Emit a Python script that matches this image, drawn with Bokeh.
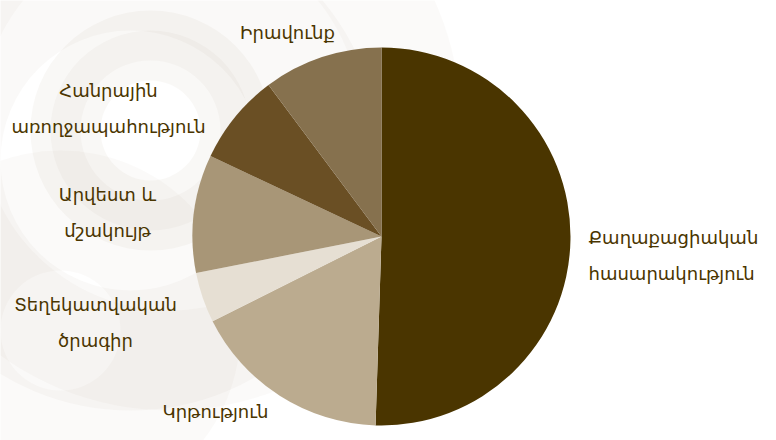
import math
from bokeh.plotting import figure
from bokeh.models import Range1d, ColumnDataSource
from bokeh.core.properties import value
from bokeh.embed import file_html
from bokeh.resources import INLINE

# ---- data (clockwise from 12 o'clock) ----
categories = [
    "Քաղաքացիական\nհասարակություն",
    "Կրթություն",
    "Տեղեկատվական\nծրագիր",
    "Արվեստ և\nմշակույթ",
    "Հանրային\nառողջապահություն",
    "Իրավունք",
]
shares = [50.5, 17.1, 4.3, 10.1, 7.8, 10.2]
colors = ["#4a3500", "#bbab8f", "#e6dfd3", "#a89677", "#6a4f24", "#86714e"]

# label anchor positions (pixel layout, y measured from top)
label_x = [588, 215, 95, 107, 108, 287]
label_y = [255, 411, 322, 212, 108, 32]
label_align = ["left", "center", "center", "center", "center", "center"]

W, H = 776, 440
cx, cy, r = 381, H - 236, 189

total = sum(shares)
starts, ends = [], []
acc = 0.0
for s in shares:
    starts.append(math.pi / 2 - 2 * math.pi * acc / total)
    acc += s
    ends.append(math.pi / 2 - 2 * math.pi * acc / total)

p = figure(width=W, height=H, output_backend="svg", toolbar_location=None,
           x_range=Range1d(0, W), y_range=Range1d(0, H), min_border=0)
p.axis.visible = False
p.grid.visible = False
p.outline_line_color = None
p.background_fill_color = "#ffffff"
p.border_fill_color = "#ffffff"

# soft decorative swirl in the background
swirl = [
    (150, H - 130, 50, 120, 0.07),
    (150, H - 130, 70, 100, 0.06),
    (130, H - 160, 130, 250, 0.06),
    (170, H - 120, 190, 290, 0.05),
    (60, H - 330, 60, 180, 0.05),
]
for sx, sy, ri, ro, a in swirl:
    p.annulus(x=sx, y=sy, inner_radius=ri, outer_radius=ro,
              fill_color="#a89880", fill_alpha=a, line_color=None)

src = ColumnDataSource(dict(start=starts, end=ends, color=colors))
p.wedge(x=cx, y=cy, radius=r, start_angle="start", end_angle="end",
        direction="clock", fill_color="color", line_color=None, source=src)

for txt, x, y, al in zip(categories, label_x, label_y, label_align):
    p.text(x=[x], y=[H - y], text=[txt], text_align=al, text_baseline="middle",
           text_font=value("DejaVu Sans"), text_font_size="18px",
           text_color="#4a3500", text_line_height=1.75)

open("out.html", "w").write(file_html(p, INLINE))
